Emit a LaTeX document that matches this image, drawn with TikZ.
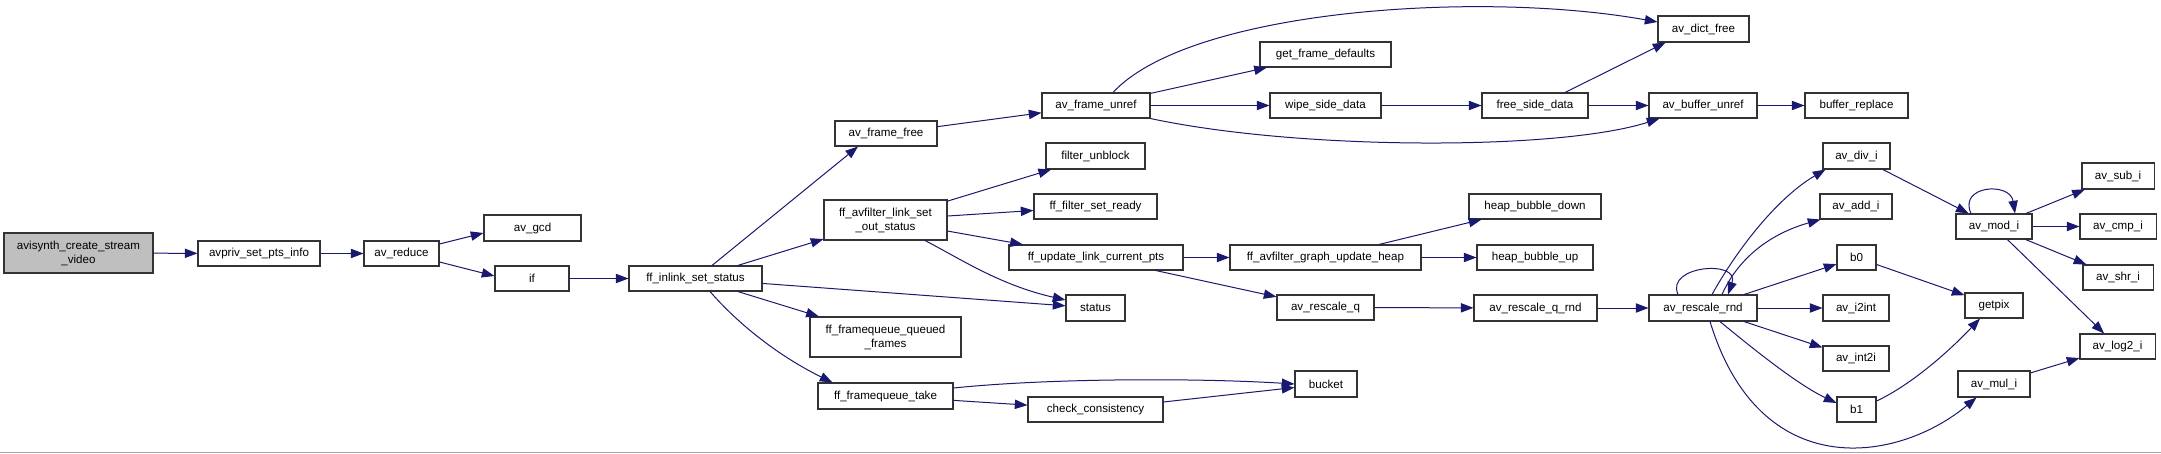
\documentclass[tikz,border=0pt]{standalone}
\usepackage{fontspec}
\setmainfont{Liberation Sans}
\usetikzlibrary{arrows.meta,calc}
\definecolor{edgec}{HTML}{191970}
\definecolor{boxc}{HTML}{333333}
\definecolor{mainfill}{HTML}{BFBFBF}
\newcommand\mkbox[7][]{\node[box,#1,minimum width={(#5-#3)*0.75pt},minimum height={(#6-#4)*0.75pt}] (#2) at ({(#3+#5)/2},{(#4+#6)/2}) {#7};}
\tikzset{
  box/.style={draw=boxc, line width=0.8pt, fill=white, inner sep=0pt, align=center,
    font=\fontsize{8.7pt}{10.5pt}\selectfont},
  cl/.style={draw=edgec, line width=0.75pt, -{Triangle[length=9.5pt,width=7pt]}, fill=none}
}
\begin{document}
\begin{tikzpicture}[x=0.75pt,y=-0.75pt]
\fill[white] (0,0) rectangle (2161,453);
\useasboundingbox (0,0) rectangle (2161,453);
\draw[color=gray!70, line width=0.75pt] (0,452) -- (2161,452);
% nodes
\mkbox[fill=mainfill]{main}{4}{233}{153}{273}{avisynth\_create\_stream\\\_video}
\mkbox{avpriv}{198}{241}{320}{266}{avpriv\_set\_pts\_info}
\mkbox{reduce}{364}{241}{439}{266}{av\_reduce}
\mkbox{gcd}{484}{215}{581}{241}{av\_gcd}
\mkbox{iff}{495}{266}{569}{291}{if}
\mkbox{inl}{629}{266}{762}{291}{ff\_inlink\_set\_status}
\mkbox{fff}{835}{121}{937}{146}{av\_frame\_free}
\mkbox{unref}{1042}{93}{1150}{118}{av\_frame\_unref}
\mkbox{dict}{1658}{16}{1749}{42}{av\_dict\_free}
\mkbox{gfd}{1260}{42}{1391}{67}{get\_frame\_defaults}
\mkbox{wipe}{1270}{93}{1381}{118}{wipe\_side\_data}
\mkbox{fsd}{1482}{93}{1588}{118}{free\_side\_data}
\mkbox{bunref}{1649}{93}{1757}{118}{av\_buffer\_unref}
\mkbox{brep}{1805}{93}{1908}{118}{buffer\_replace}
\mkbox{unb}{1046}{143}{1145}{169}{filter\_unblock}
\mkbox{fsr}{1034}{194}{1157}{219}{ff\_filter\_set\_ready}
\mkbox{outs}{824}{200}{947}{240}{ff\_avfilter\_link\_set\\\_out\_status}
\mkbox{ulcp}{1009}{245}{1183}{270}{ff\_update\_link\_current\_pts}
\mkbox{guh}{1230}{245}{1421}{270}{ff\_avfilter\_graph\_update\_heap}
\mkbox{hbd}{1469}{194}{1601}{219}{heap\_bubble\_down}
\mkbox{hbu}{1477}{245}{1593}{270}{heap\_bubble\_up}
\mkbox{status}{1066}{295}{1125}{321}{status}
\mkbox{rq}{1277}{295}{1374}{320}{av\_rescale\_q}
\mkbox{rqr}{1474}{295}{1597}{321}{av\_rescale\_q\_rnd}
\mkbox{rr}{1649}{295}{1757}{321}{av\_rescale\_rnd}
\mkbox{qf}{810}{317}{961}{357}{ff\_framequeue\_queued\\\_frames}
\mkbox{take}{818}{383}{953}{409}{ff\_framequeue\_take}
\mkbox{cc}{1028}{397}{1163}{422}{check\_consistency}
\mkbox{bucket}{1295}{371}{1357}{397}{bucket}
\mkbox{divi}{1823}{143}{1890}{169}{av\_div\_i}
\mkbox{addi}{1820}{194}{1892}{219}{av\_add\_i}
\mkbox{b0}{1837}{245}{1876}{270}{b0}
\mkbox{i2int}{1823}{295}{1889}{321}{av\_i2int}
\mkbox{int2i}{1823}{346}{1889}{371}{av\_int2i}
\mkbox{b1}{1837}{397}{1876}{422}{b1}
\mkbox{getpix}{1965}{293}{2023}{318}{getpix}
\mkbox{modi}{1956}{214}{2032}{239}{av\_mod\_i}
\mkbox{subi}{2082}{163}{2154}{189}{av\_sub\_i}
\mkbox{cmpi}{2080}{214}{2156}{239}{av\_cmp\_i}
\mkbox{shri}{2083}{265}{2153}{290}{av\_shr\_i}
\mkbox{log2i}{2080}{334}{2155}{359}{av\_log2\_i}
\mkbox{muli}{1958}{371}{2030}{397}{av\_mul\_i}
% edges
\draw[cl] (main) -- (avpriv);
\draw[cl] (avpriv) -- (reduce);
\draw[cl] ($(reduce.east)+(0,-9.5)$) -- ($(gcd.west)+(0,5)$);
\draw[cl] ($(reduce.east)+(0,8.5)$) -- ($(iff.west)+(0,-2.5)$);
\draw[cl] (iff) -- (inl);
\draw[cl] ($(inl.north)+(16.5,0)$) -- ($(fff.south)+(-28,0)$);
\draw[cl] (inl) -- (outs);
\draw[cl] (inl) -- (status);
\draw[cl] (inl) -- (qf);
\draw[cl] ($(inl.south)+(14.5,0)$) .. controls +(35,40) and +(-45,-22) .. ($(take.north west)+(15,0)$);
\draw[cl] (fff) -- (unref);
\draw[cl] ($(unref.north)+(17,0)$) .. controls +(77,-83) and +(-178,-32) .. ($(dict.west)+(0,-7)$);
\draw[cl] (unref) -- (gfd);
\draw[cl] (unref) -- (wipe);
\draw[cl] (unref.south east) .. controls +(150,32) and +(-100,32) .. ($(bunref.south west)+(11,0)$);
\draw[cl] (wipe) -- (fsd);
\draw[cl] ($(fsd.north)+(30,0)$) -- ($(dict.south)+(-38,0)$);
\draw[cl] (fsd) -- (bunref);
\draw[cl] (bunref) -- (brep);
\draw[cl] (outs) -- (unb);
\draw[cl] (outs) -- (fsr);
\draw[cl] (outs) -- (ulcp);
\draw[cl] ($(outs.south)+(39.5,0)$) .. controls +(35,18) and +(-66,-15) .. ($(status.west)+(0,-8)$);
\draw[cl] (ulcp) -- (guh);
\draw[cl] (ulcp) -- (rq);
\draw[cl] (guh) -- (hbd);
\draw[cl] (guh) -- (hbu);
\draw[cl] (rq) -- (rqr);
\draw[cl] (rqr) -- (rr);
\draw[cl] ($(rr.north)+(-25,0)$) .. controls +(-13,-29) and +(12,-35) .. ($(rr.north)+(25,0)$);
\draw[cl] ($(rr.north)+(9,0)$) .. controls +(28,-50) and +(-46,27) .. ($(divi.south west)+(3,0)$);
\draw[cl] ($(rr.north)+(19,0)$) .. controls +(18,-40) and +(-46,13) .. ($(addi.south west)+(1,0)$);
\draw[cl] (rr) -- (b0);
\draw[cl] (rr) -- (i2int);
\draw[cl] (rr) -- (int2i);
\draw[cl] ($(rr.south)+(17,0)$) .. controls +(35,29) and +(-38,-18) .. ($(b1.west)+(0,-6.5)$);
\draw[cl] ($(rr.south)+(7,0)$) .. controls +(50,164) and +(-78,65) .. ($(muli.south west)+(19,0)$);
\draw[cl] (divi) -- (modi);
\draw[cl] ($(modi.north)+(-23,0)$) .. controls +(-13,-28) and +(-5,-32) .. ($(modi.north)+(21,0)$);
\draw[cl] (modi) -- (subi);
\draw[cl] (modi) -- (cmpi);
\draw[cl] (modi) -- (shri);
\draw[cl] (modi) -- (log2i);
\draw[cl] (b0) -- (getpix);
\draw[cl] ($(b1.east)+(0,-8.5)$) .. controls +(28,-13) and +(-40,42) .. ($(getpix.south)+(-14,0)$);
\draw[cl] (muli) -- (log2i);
\draw[cl] ($(take.east)+(0,-8)$) .. controls +(97,-10) and +(-96,-6) .. (bucket.west);
\draw[cl] (take) -- (cc);
\draw[cl] (cc) -- (bucket);
\end{tikzpicture}
\end{document}
